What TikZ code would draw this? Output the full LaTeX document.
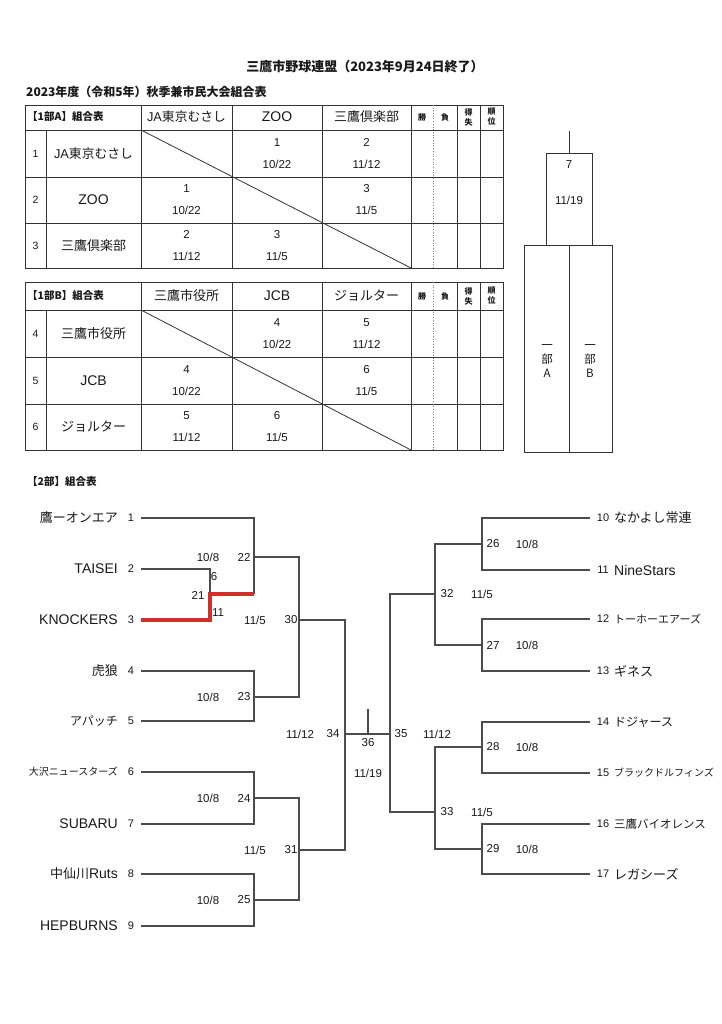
\documentclass[tikz,border=0pt]{standalone}
\usepackage{fontspec}
\setmainfont{Liberation Sans}
\newfontfamily\jp{Noto Sans CJK JP}
\definecolor{winred}{RGB}{208,48,44}
\tikzset{
  every node/.style={text=black!90,inner sep=0pt},
  tbl/.style={draw=black!80,line width=0.8pt},
  dotline/.style={draw=black!50,line width=0.7pt,dotted},
  brk/.style={draw=black!70,line width=1.1pt},
  win/.style={draw=winred,line width=3.6pt},
  ttl/.style={font=\jp\bfseries\fontsize{13}{15}\selectfont},
  hd/.style={font=\jp\bfseries\fontsize{10.5}{12}\selectfont},
  sm/.style={font=\jp\bfseries\fontsize{8}{10}\selectfont,align=center},
  nm/.style={font=\fontsize{14}{16}\selectfont},
  nmj/.style={font=\jp\fontsize{13}{15}\selectfont},
  rno/.style={font=\fontsize{10.5}{12}\selectfont},
  val/.style={font=\fontsize{11.5}{22}\selectfont,align=center},
  lab/.style={font=\fontsize{11.5}{13}\selectfont},
  tno/.style={font=\fontsize{11}{13}\selectfont}
}
\begin{document}
\begin{tikzpicture}[x=1pt,y=-1pt]
\useasboundingbox[fill=white] (0,0) rectangle (721,1024);

    \node[ttl] (ttl) at (365,67) {三鷹市野球連盟（2023年9月24日終了）};
    \node[ttl,anchor=west,font=\jp\bfseries\fontsize{12}{14}\selectfont] (sbt) at (26,92) {2023年度（令和5年）秋季兼市民大会組合表};

% 1部A
    \draw[tbl] (25,105) rectangle (503,268);
    \draw[tbl] (25,130) -- (503,130) (25,177) -- (503,177) (25,223) -- (503,223);
    \draw[tbl] (46,130) -- (46,268) (141,105) -- (141,268) (232,105) -- (232,268) (322,105) -- (322,268);
    \draw[tbl] (411,105) -- (411,268) (457,105) -- (457,268) (480,105) -- (480,268);
    \draw[dotline] (433,105) -- (433,268);
    \draw[tbl] (141,130) -- (411,268);

    \node[hd,anchor=west] (ha0) at (27,117) {【1部A】組合表};
    \node[nm,font=\fontsize{12.8}{15}\selectfont] (ha1) at (186.5,117) {JA{\jp 東京むさし}};
    \node[nm] (ha2) at (277,117) {ZOO};
    \node[nmj] (ha3) at (366.5,117) {三鷹倶楽部};
    \node[sm] (ha4) at (422,117) {勝};
    \node[sm] (ha5) at (445,117) {負};
    \node[sm] (ha6) at (468.5,117) {得\\失};
    \node[sm] (ha7) at (491.5,117) {順\\位};

    \node[rno] (na1) at (35.5,153.5) {1};
    \node[nm,font=\fontsize{12.8}{15}\selectfont] (ra1) at (93.5,153.5) {JA{\jp 東京むさし}};
    \node[rno] (na2) at (35.5,200) {2};
    \node[nm] (ra2) at (93.5,200) {ZOO};
    \node[rno] (na3) at (35.5,245.5) {3};
    \node[nmj] (ra3) at (93.5,245.5) {三鷹倶楽部};

    \node[val] (ca12) at (277,154) {1\\10/22};
    \node[val] (ca13) at (366.5,154) {2\\11/12};
    \node[val] (ca21) at (186.5,200) {1\\10/22};
    \node[val] (ca23) at (366.5,200) {3\\11/5};
    \node[val] (ca31) at (186.5,246) {2\\11/12};
    \node[val] (ca32) at (277,246) {3\\11/5};

% 1部B
    \draw[tbl] (25,282) rectangle (503,450);
    \draw[tbl] (25,310) -- (503,310) (25,357) -- (503,357) (25,404) -- (503,404);
    \draw[tbl] (46,310) -- (46,450) (141,282) -- (141,450) (232,282) -- (232,450) (322,282) -- (322,450);
    \draw[tbl] (411,282) -- (411,450) (457,282) -- (457,450) (480,282) -- (480,450);
    \draw[dotline] (433,282) -- (433,450);
    \draw[tbl] (141,310) -- (411,450);

    \node[hd,anchor=west] (hb0) at (27,296) {【1部B】組合表};
    \node[nmj] (hb1) at (186.5,296) {三鷹市役所};
    \node[nm] (hb2) at (277,296) {JCB};
    \node[nmj] (hb3) at (366.5,296) {ジョルター};
    \node[sm] (hb4) at (422,296) {勝};
    \node[sm] (hb5) at (445,296) {負};
    \node[sm] (hb6) at (468.5,296) {得\\失};
    \node[sm] (hb7) at (491.5,296) {順\\位};

    \node[rno] (nb4) at (35.5,333.5) {4};
    \node[nmj] (rb4) at (93.5,333.5) {三鷹市役所};
    \node[rno] (nb5) at (35.5,380.5) {5};
    \node[nm] (rb5) at (93.5,380.5) {JCB};
    \node[rno] (nb6) at (35.5,427) {6};
    \node[nmj] (rb6) at (93.5,427) {ジョルター};

    \node[val] (cb45) at (277,334) {4\\10/22};
    \node[val] (cb46) at (366.5,334) {5\\11/12};
    \node[val] (cb54) at (186.5,380.5) {4\\10/22};
    \node[val] (cb56) at (366.5,380.5) {6\\11/5};
    \node[val] (cb64) at (186.5,427) {5\\11/12};
    \node[val] (cb65) at (277,427) {6\\11/5};

% 1部 final
    \draw[tbl] (569,131) -- (569,153);
    \draw[tbl] (546,153) rectangle (592,245);
    \draw[tbl] (524,245) rectangle (569,452);
    \draw[tbl] (569,245) rectangle (612,452);
    \node[lab] (k7) at (569,165) {7};
    \node[lab] (d7) at (569,200) {11/19};
    \node[font=\jp\fontsize{11.5}{14}\selectfont,align=center] (fa) at (547,361) {一\\部\\A};
    \node[font=\jp\fontsize{11.5}{14}\selectfont,align=center] (fb) at (590,361) {一\\部\\B};

% 2部
    \node[hd,anchor=west] (hc0) at (27,482) {【2部】組合表};

    \node[nmj,anchor=east] (t1) at (118,518) {鷹ーオンエア};
    \node[nm,anchor=east] (t2) at (118,569) {TAISEI};
    \node[nm,anchor=east] (t3) at (118,620) {KNOCKERS};
    \node[nmj,anchor=east] (t4) at (118,671) {虎狼};
    \node[nmj,anchor=east,font=\jp\fontsize{12}{14}\selectfont] (t5) at (118,721) {アパッチ};
    \node[nmj,anchor=east,font=\jp\fontsize{10}{12}\selectfont] (t6) at (118,772) {大沢ニュースターズ};
    \node[nm,anchor=east] (t7) at (118,824) {SUBARU};
    \node[nm,anchor=east] (t8) at (118,874) {{\jp\fontsize{13}{15}\selectfont 中仙川}Ruts};
    \node[nm,anchor=east] (t9) at (118,926) {HEPBURNS};

    \node[tno] (n1) at (131,518) {1};
    \node[tno] (n2) at (131,569) {2};
    \node[tno] (n3) at (131,620) {3};
    \node[tno] (n4) at (131,671) {4};
    \node[tno] (n5) at (131,721) {5};
    \node[tno] (n6) at (131,772) {6};
    \node[tno] (n7) at (131,824) {7};
    \node[tno] (n8) at (131,874) {8};
    \node[tno] (n9) at (131,926) {9};

    \coordinate (l1) at (141,518);
    \coordinate (l2) at (141,569);
    \coordinate (l3) at (141,620);
    \coordinate (l4) at (141,671);
    \coordinate (l5) at (141,721);
    \coordinate (l6) at (141,772);
    \coordinate (l7) at (141,824);
    \coordinate (l8) at (141,874);
    \coordinate (l9) at (141,926);

    \coordinate (m6) at (210,594);
    \coordinate (m22) at (254,557);
    \coordinate (m23) at (254,697);
    \coordinate (m24) at (254,798);
    \coordinate (m25) at (254,900);
    \coordinate (m30) at (299,620);
    \coordinate (m31) at (299,850);
    \coordinate (m34) at (345,734);
    \coordinate (m36) at (368,709);
    \coordinate (m35) at (390,734);
    \coordinate (m32) at (435,594);
    \coordinate (m33) at (435,812);
    \coordinate (m26) at (482,544);
    \coordinate (m27) at (482,645);
    \coordinate (m28) at (482,747);
    \coordinate (m29) at (482,849);

    \coordinate (r10) at (590,518);
    \coordinate (r11) at (590,570);
    \coordinate (r12) at (590,619);
    \coordinate (r13) at (590,671);
    \coordinate (r14) at (590,722);
    \coordinate (r15) at (590,773);
    \coordinate (r16) at (590,824);
    \coordinate (r17) at (590,874);

    \draw[brk] (l1) -| (m22);
    \draw[brk] (l2) -| (m6);
    \draw[brk] (m6 -| m22) -- (m22);
    \draw[win] (l3) -| (m6) -- (m6 -| m22);
    \draw[brk] (l4) -| (m23);
    \draw[brk] (l5) -| (m23);
    \draw[brk] (l6) -| (m24);
    \draw[brk] (l7) -| (m24);
    \draw[brk] (l8) -| (m25);
    \draw[brk] (l9) -| (m25);
    \draw[brk] (m22) -| (m30);
    \draw[brk] (m23) -| (m30);
    \draw[brk] (m24) -| (m31);
    \draw[brk] (m25) -| (m31);
    \draw[brk] (m30) -| (m34);
    \draw[brk] (m31) -| (m34);
    \draw[brk] (m34) -- (m35);
    \draw[brk] (m36) -- (m36 |- m34);
    \draw[brk] (m32) -| (m35);
    \draw[brk] (m33) -| (m35);
    \draw[brk] (m26) -| (m32);
    \draw[brk] (m27) -| (m32);
    \draw[brk] (m28) -| (m33);
    \draw[brk] (m29) -| (m33);
    \draw[brk] (r10) -| (m26);
    \draw[brk] (r11) -| (m26);
    \draw[brk] (r12) -| (m27);
    \draw[brk] (r13) -| (m27);
    \draw[brk] (r14) -| (m28);
    \draw[brk] (r15) -| (m28);
    \draw[brk] (r16) -| (m29);
    \draw[brk] (r17) -| (m29);

    \node[lab] (d22) at (208,557) {10/8};
    \node[lab] (k22) at (244,557) {22};
    \node[lab] (k6) at (214,577) {6};
    \node[lab] (k21) at (198,595) {21};
    \node[lab] (k11) at (218,613) {11};
    \node[lab] (d30) at (255,620) {11/5};
    \node[lab] (k30) at (291,620) {30};
    \node[lab] (d23) at (208,697) {10/8};
    \node[lab] (k23) at (244,697) {23};
    \node[lab] (d24) at (208,798) {10/8};
    \node[lab] (k24) at (244,798) {24};
    \node[lab] (d31) at (255,850) {11/5};
    \node[lab] (k31) at (291,850) {31};
    \node[lab] (d25) at (208,900) {10/8};
    \node[lab] (k25) at (244,900) {25};
    \node[lab] (d34) at (300,734) {11/12};
    \node[lab] (k34) at (333,734) {34};
    \node[lab] (k36) at (368,743) {36};
    \node[lab] (d36) at (368,773) {11/19};
    \node[lab] (k35) at (401,734) {35};
    \node[lab] (d35) at (437,734) {11/12};
    \node[lab] (k32) at (447,594) {32};
    \node[lab] (d32) at (482,594) {11/5};
    \node[lab] (k26) at (493,544) {26};
    \node[lab] (d26) at (527,544) {10/8};
    \node[lab] (k27) at (493,645) {27};
    \node[lab] (d27) at (527,645) {10/8};
    \node[lab] (k33) at (447,812) {33};
    \node[lab] (d33) at (482,812) {11/5};
    \node[lab] (k28) at (493,747) {28};
    \node[lab] (d28) at (527,747) {10/8};
    \node[lab] (k29) at (493,849) {29};
    \node[lab] (d29) at (527,849) {10/8};

    \node[tno] (n10) at (603,518) {10};
    \node[tno] (n11) at (603,570) {11};
    \node[tno] (n12) at (603,619) {12};
    \node[tno] (n13) at (603,671) {13};
    \node[tno] (n14) at (603,722) {14};
    \node[tno] (n15) at (603,773) {15};
    \node[tno] (n16) at (603,824) {16};
    \node[tno] (n17) at (603,874) {17};

    \node[nmj,anchor=west] (t10) at (614,518) {なかよし常連};
    \node[nm,anchor=west] (t11) at (614,570) {NineStars};
    \node[nmj,anchor=west,font=\jp\fontsize{11}{13}\selectfont] (t12) at (614,619) {トーホーエアーズ};
    \node[nmj,anchor=west] (t13) at (614,671) {ギネス};
    \node[nmj,anchor=west,font=\jp\fontsize{12}{14}\selectfont] (t14) at (614,722) {ドジャース};
    \node[nmj,anchor=west,font=\jp\fontsize{10}{12}\selectfont] (t15) at (614,773) {ブラックドルフィンズ};
    \node[nmj,anchor=west,font=\jp\fontsize{11.5}{13}\selectfont] (t16) at (614,824) {三鷹バイオレンス};
    \node[nmj,anchor=west] (t17) at (614,874) {レガシーズ};

\end{tikzpicture}
\end{document}
